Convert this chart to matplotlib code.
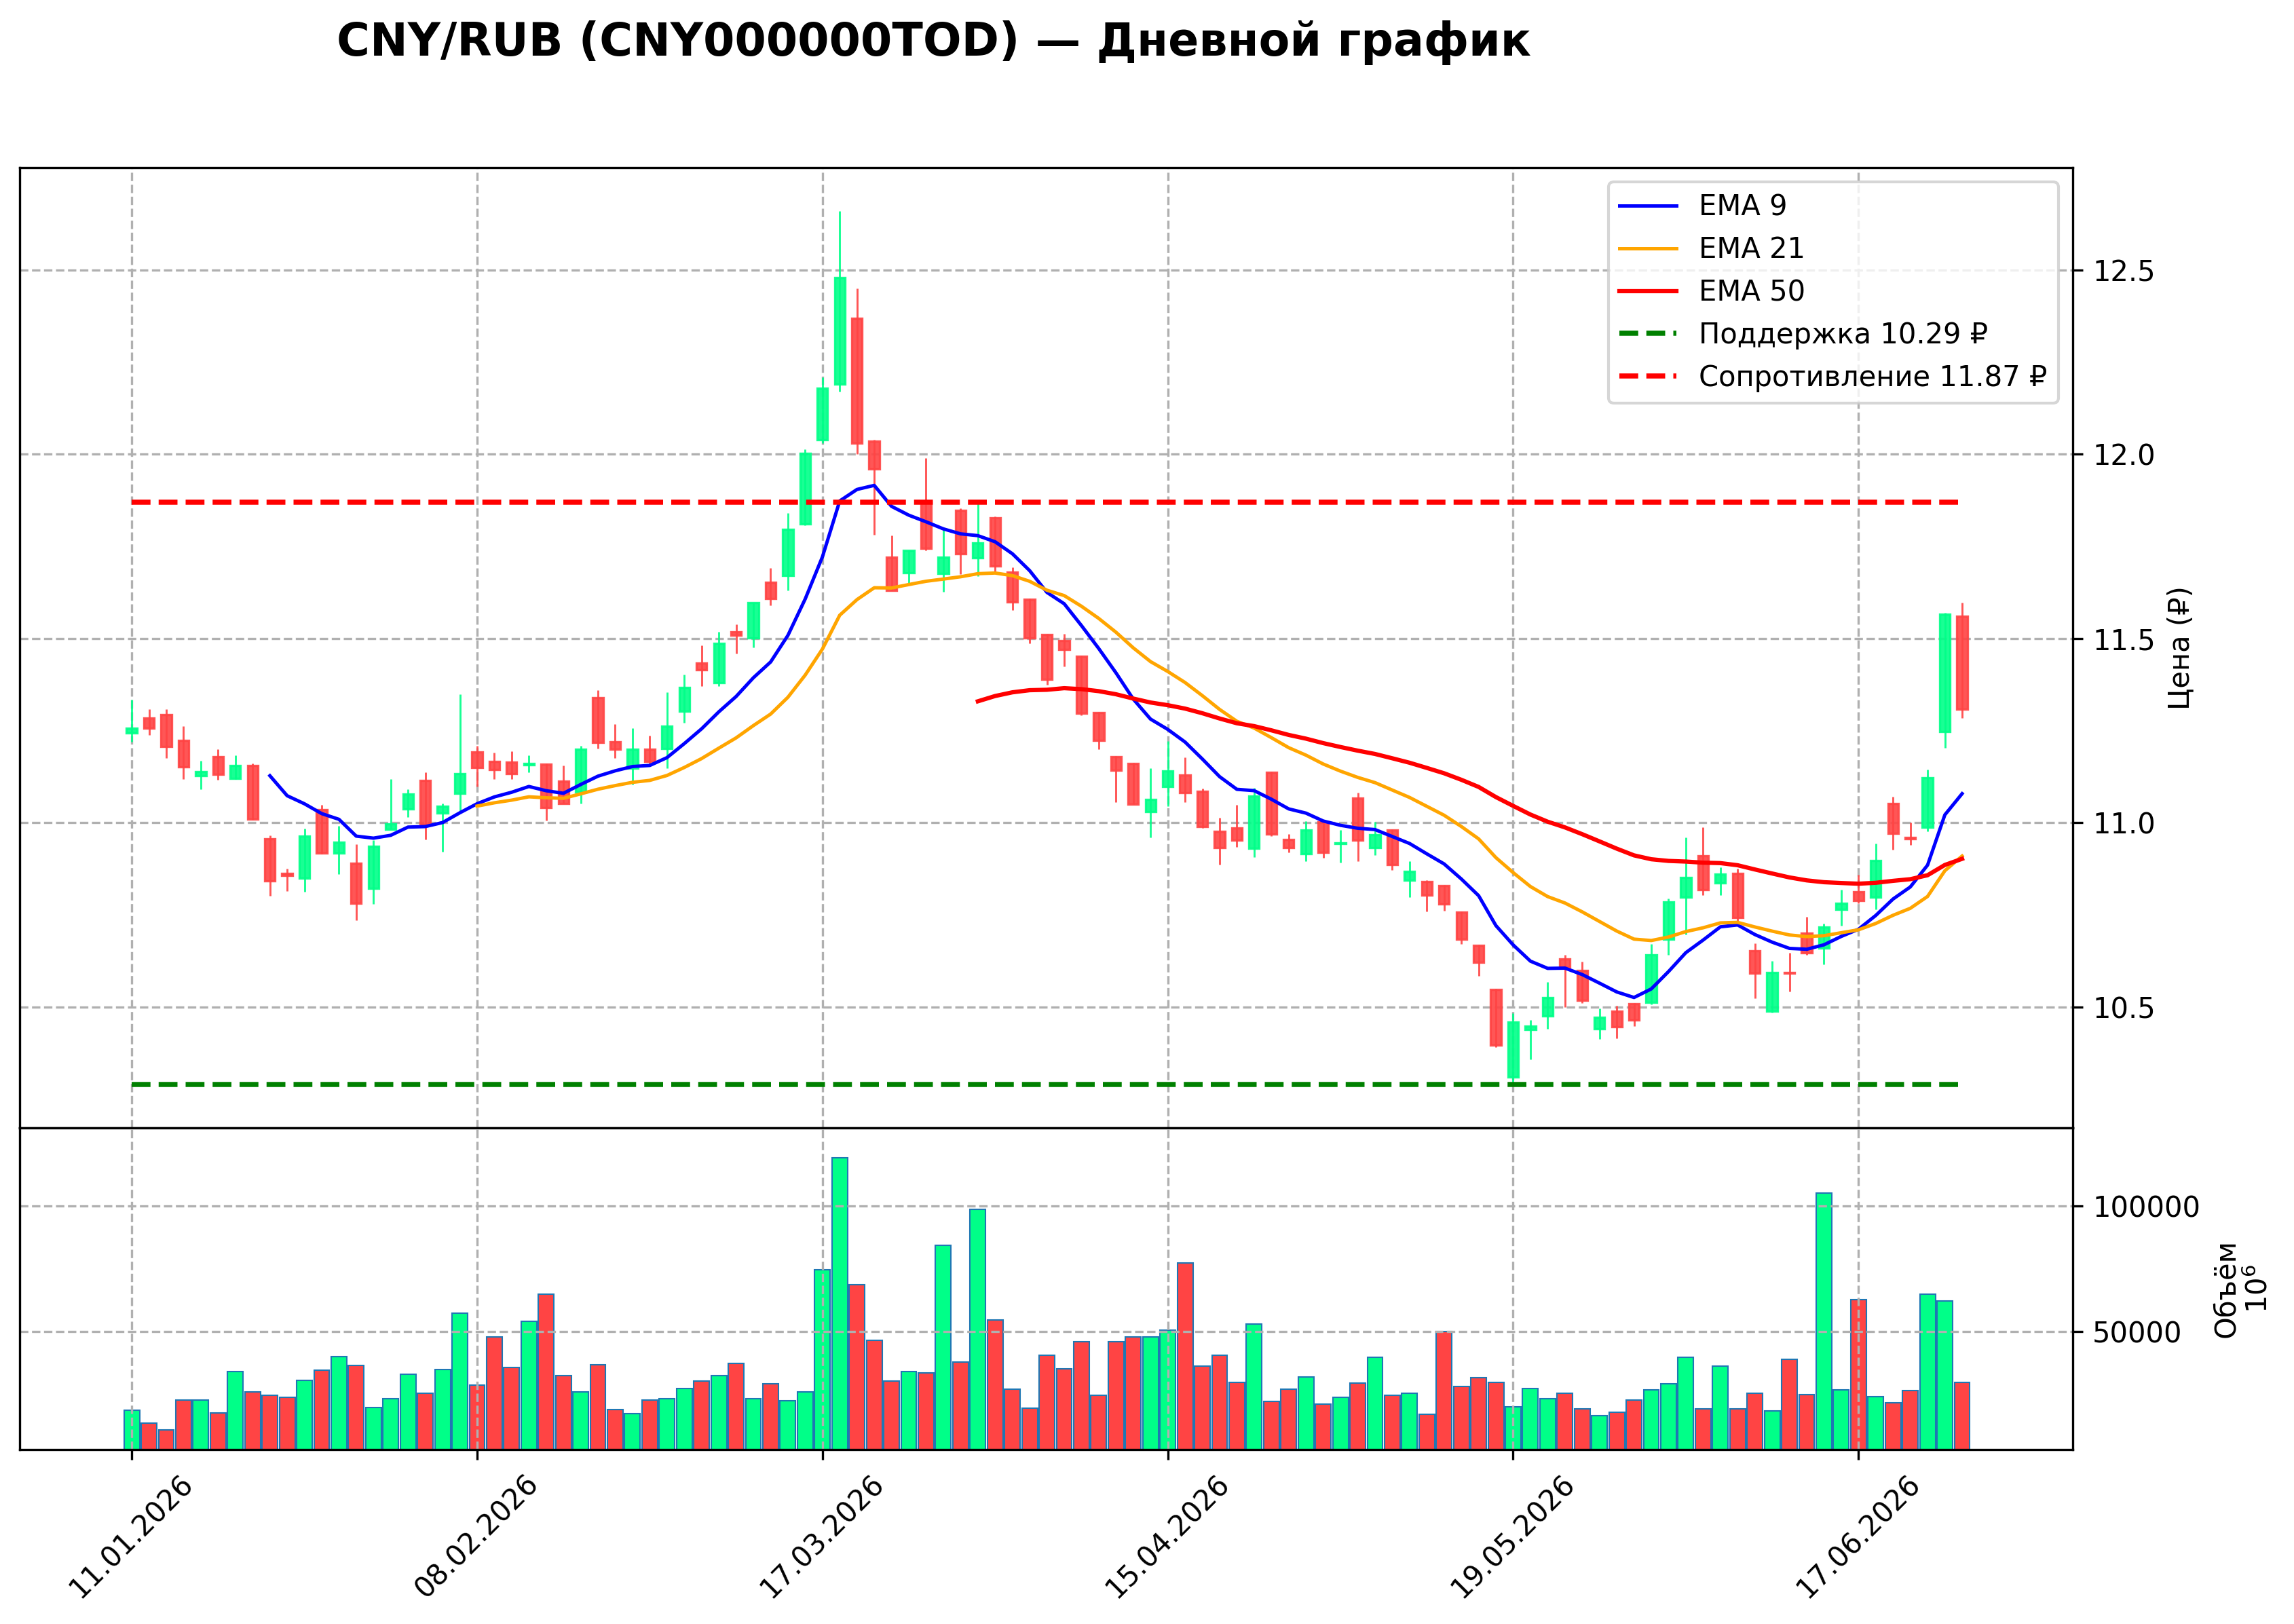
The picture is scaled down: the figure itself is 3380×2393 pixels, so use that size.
import matplotlib
matplotlib.use("Agg")
import matplotlib.pyplot as plt
import numpy as np

TITLE = "CNY/RUB (CNY000000TOD) — Дневной график"

# daily candles (index 0 = 11.01.2026)
opens = [
    11.244, 11.284, 11.294, 11.224, 11.128, 11.180, 11.121, 11.155, 10.956, 10.862,
    10.849, 11.036, 10.918, 10.890, 10.822, 10.982, 11.037, 11.114, 11.027, 11.079,
    11.193, 11.167, 11.164, 11.158, 11.159, 11.112, 11.083, 11.340, 11.219, 11.148,
    11.199, 11.202, 11.302, 11.434, 11.380, 11.518, 11.501, 11.653, 11.671, 11.811,
    12.040, 12.190, 12.370, 12.036, 11.720, 11.679, 11.870, 11.677, 11.848, 11.719,
    11.828, 11.681, 11.606, 11.511, 11.495, 11.451, 11.299, 11.179, 11.160, 11.030,
    11.098, 11.129, 11.085, 10.977, 10.986, 10.931, 11.136, 10.955, 10.915, 11.002,
    10.944, 11.066, 10.933, 10.980, 10.844, 10.841, 10.829, 10.757, 10.667, 10.548,
    10.310, 10.439, 10.476, 10.630, 10.598, 10.441, 10.488, 10.509, 10.512, 10.684,
    10.797, 10.910, 10.837, 10.862, 10.653, 10.488, 10.593, 10.701, 10.659, 10.765,
    10.812, 10.797, 11.052, 10.960, 10.988, 11.247, 11.560,
]
highs = [
    11.334, 11.309, 11.309, 11.262, 11.168, 11.200, 11.183, 11.161, 10.966, 10.876,
    10.983, 11.049, 10.992, 10.942, 10.952, 11.119, 11.091, 11.136, 11.052, 11.348,
    11.208, 11.190, 11.194, 11.182, 11.161, 11.156, 11.208, 11.360, 11.268, 11.256,
    11.237, 11.354, 11.403, 11.482, 11.518, 11.539, 11.597, 11.691, 11.841, 12.013,
    12.210, 12.660, 12.450, 12.040, 11.780, 11.739, 11.990, 11.794, 11.854, 11.875,
    11.832, 11.694, 11.608, 11.513, 11.512, 11.453, 11.301, 11.181, 11.162, 11.148,
    11.221, 11.178, 11.093, 11.014, 11.049, 11.094, 11.138, 10.970, 11.004, 11.004,
    10.981, 11.082, 11.002, 10.982, 10.895, 10.843, 10.831, 10.759, 10.669, 10.550,
    10.482, 10.465, 10.567, 10.642, 10.622, 10.495, 10.503, 10.511, 10.670, 10.795,
    10.960, 10.987, 10.878, 10.875, 10.673, 10.625, 10.646, 10.745, 10.726, 10.818,
    10.858, 10.944, 11.070, 11.000, 11.145, 11.570, 11.597,
]
lows = [
    11.220, 11.238, 11.175, 11.119, 11.091, 11.117, 11.119, 11.007, 10.802, 10.815,
    10.812, 10.915, 10.861, 10.735, 10.779, 10.982, 11.015, 10.955, 10.921, 11.029,
    11.098, 11.118, 11.118, 11.136, 11.006, 11.052, 11.052, 11.201, 11.176, 11.104,
    11.159, 11.148, 11.271, 11.371, 11.371, 11.459, 11.475, 11.590, 11.630, 11.808,
    12.030, 12.170, 12.000, 11.782, 11.631, 11.651, 11.739, 11.627, 11.675, 11.670,
    11.681, 11.578, 11.486, 11.374, 11.425, 11.291, 11.199, 11.055, 11.051, 10.960,
    11.045, 11.056, 10.986, 10.887, 10.935, 10.907, 10.963, 10.919, 10.895, 10.905,
    10.892, 10.895, 10.912, 10.871, 10.797, 10.759, 10.761, 10.671, 10.584, 10.390,
    10.290, 10.357, 10.441, 10.500, 10.511, 10.413, 10.414, 10.448, 10.506, 10.642,
    10.696, 10.803, 10.803, 10.733, 10.523, 10.485, 10.542, 10.642, 10.616, 10.720,
    10.781, 10.765, 10.926, 10.940, 10.977, 11.203, 11.285,
]
closes = [
    11.257, 11.257, 11.206, 11.152, 11.139, 11.131, 11.155, 11.009, 10.842, 10.856,
    10.964, 10.918, 10.947, 10.781, 10.936, 10.997, 11.077, 10.995, 11.044, 11.133,
    11.150, 11.144, 11.133, 11.161, 11.041, 11.052, 11.199, 11.217, 11.199, 11.199,
    11.167, 11.262, 11.367, 11.415, 11.486, 11.509, 11.597, 11.608, 11.797, 12.002,
    12.180, 12.480, 12.030, 11.960, 11.631, 11.739, 11.745, 11.721, 11.730, 11.760,
    11.696, 11.600, 11.501, 11.389, 11.471, 11.298, 11.224, 11.142, 11.051, 11.064,
    11.141, 11.082, 10.989, 10.933, 10.953, 11.073, 10.970, 10.933, 10.980, 10.919,
    10.946, 10.953, 10.967, 10.887, 10.868, 10.803, 10.779, 10.683, 10.621, 10.396,
    10.458, 10.448, 10.526, 10.608, 10.518, 10.471, 10.445, 10.465, 10.642, 10.785,
    10.852, 10.818, 10.861, 10.743, 10.592, 10.593, 10.591, 10.647, 10.717, 10.782,
    10.789, 10.898, 10.971, 10.957, 11.122, 11.567, 11.309,
]
volumes = [
    18800, 13700, 11000, 22900, 22900, 17700, 34000, 26100, 24800, 23800,
    30600, 34700, 40100, 36500, 19800, 23400, 33100, 25600, 34900, 57200,
    28700, 47900, 35800, 54200, 65000, 32600, 25900, 36900, 19100, 17500,
    22700, 23400, 27500, 30200, 32600, 37300, 23400, 29300, 22500, 25900,
    74500, 119100, 68600, 46400, 30200, 34000, 33500, 84200, 38000, 98600,
    54700, 27200, 19600, 40700, 35300, 45900, 24700, 46100, 47900, 47900,
    50600, 77200, 36400, 40500, 29900, 52900, 22300, 27200, 31900, 21200,
    23800, 29600, 39800, 24700, 25600, 17100, 49900, 28300, 31700, 29900,
    20200, 27500, 23200, 25600, 19400, 16700, 18000, 22700, 26800, 29200,
    39800, 19300, 36400, 19300, 25400, 18500, 38900, 25000, 105000, 26800,
    62600, 24100, 21800, 26500, 64900, 62200, 29900,
]
date_ticks = ["11.01.2026", "08.02.2026", "17.03.2026", "15.04.2026", "19.05.2026", "17.06.2026"]
support = 10.29
resistance = 11.87

UP_COLOR = "#00ff88"
DOWN_COLOR = "#ff4444"


def ema(values, span):
    """EMA seeded with the simple mean of the first `span` values."""
    values = np.asarray(values, dtype=float)
    out = np.full(len(values), np.nan)
    alpha = 2.0 / (span + 1)
    out[span - 1] = values[:span].mean()
    for i in range(span, len(values)):
        out[i] = alpha * values[i] + (1 - alpha) * out[i - 1]
    return out


def plot_chart(save_path="out.png"):
    o, h, l, c = (np.asarray(a, dtype=float) for a in (opens, highs, lows, closes))
    vol = np.asarray(volumes, dtype=float)
    x = np.arange(len(c))
    colors = np.where(c >= o, UP_COLOR, DOWN_COLOR)

    fig = plt.figure(figsize=(3380 / 300, 2393 / 300), dpi=300)
    ax = fig.add_axes([0.0085, 0.3055, 0.8950, 0.5913])
    ax_vol = fig.add_axes([0.0085, 0.1074, 0.8950, 0.1981], sharex=ax)

    # candles
    ax.vlines(x, l, h, color=colors, linewidth=0.7, alpha=0.9, zorder=2)
    ax.bar(x, np.abs(c - o), bottom=np.minimum(o, c), width=0.6, color=colors,
           edgecolor=colors, linewidth=0.8, alpha=0.9, zorder=3)

    ax.plot(x, ema(c, 9), color="blue", linewidth=1.2, label="EMA 9", zorder=4)
    ax.plot(x, ema(c, 21), color="orange", linewidth=1.2, label="EMA 21", zorder=4)
    ax.plot(x, ema(c, 50), color="red", linewidth=1.5, label="EMA 50", zorder=4)
    ax.hlines(support, x[0], x[-1], colors="green", linestyles="--", linewidth=1.8,
              label=f"Поддержка {support:.2f} ₽", zorder=4)
    ax.hlines(resistance, x[0], x[-1], colors="red", linestyles="--", linewidth=1.8,
              label=f"Сопротивление {resistance:.2f} ₽", zorder=4)

    lo, hi = l.min(), h.max()
    pad = 0.05 * (hi - lo)
    ax.set_ylim(lo - pad, hi + pad)
    ax.set_xlim(-6.5, len(c) + 5.4)
    ax.yaxis.tick_right()
    ax.yaxis.set_label_position("right")
    ax.set_ylabel("Цена (₽)")
    ax.tick_params(axis="x", which="both", bottom=False, labelbottom=False)
    ax.grid(True, linestyle="--")
    ax.legend(loc="upper right")

    # volume
    ax_vol.bar(x, vol, width=0.9, color=colors, edgecolor="#1f77b4", linewidth=0.5)
    ax_vol.set_ylim(0.28 * vol.min(), 1.1 * vol.max())
    ax_vol.yaxis.tick_right()
    ax_vol.yaxis.set_label_position("right")
    ax_vol.set_ylabel("Объём\n$10^6$")
    ax_vol.set_xticks(x[::20])
    ax_vol.set_xticklabels(date_ticks, rotation=45)
    ax_vol.grid(True, linestyle="--")

    fig.text(0.4071, 0.9657, TITLE, ha="center", va="baseline",
             fontsize=16, fontweight="bold")
    fig.savefig(save_path, dpi=300)
    plt.close(fig)
    return save_path


if __name__ == "__main__":
    plot_chart()
